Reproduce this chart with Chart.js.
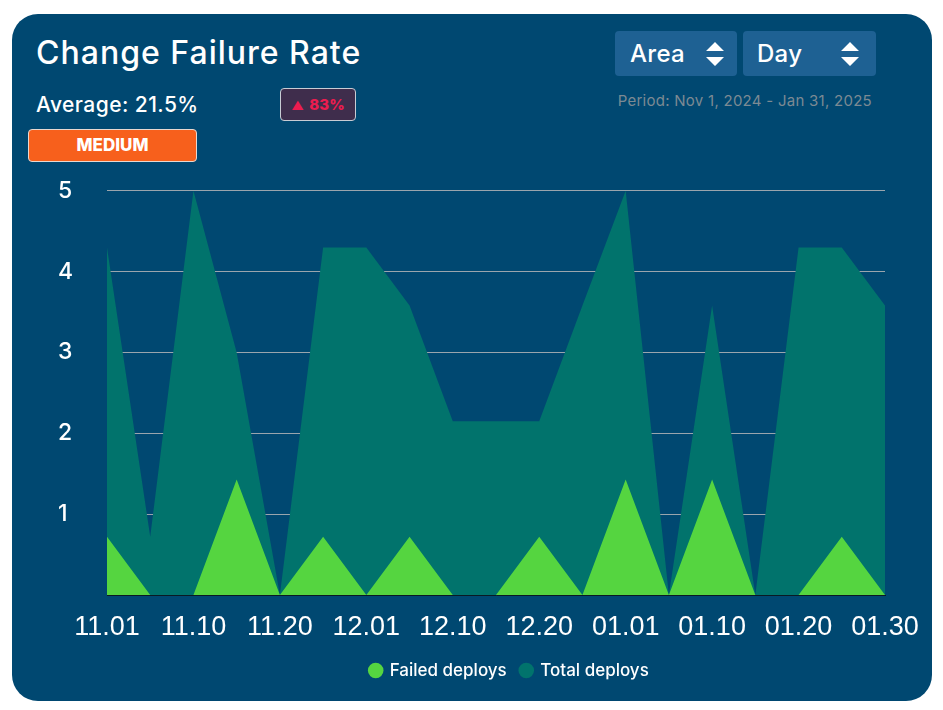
<!DOCTYPE html>
<html>
<head>
<meta charset="utf-8">
<title>Change Failure Rate</title>
<script src="https://cdn.jsdelivr.net/npm/chart.js@4"></script>
<style>
  html, body { margin: 0; padding: 0; background: #fff; width: 943px; height: 710px; overflow: hidden; }
  body { font-family: Inter, sans-serif; color: #fff; }
  .card { position: absolute; left: 12px; top: 14px; width: 920px; height: 687px; background: #004871; border-radius: 26px; }
  .abs { position: absolute; white-space: nowrap; }
  .title { left: 36px; top: 33px; font-size: 32px; line-height: 40px; letter-spacing: 1px; font-weight: 500; }
  .avg { left: 36px; top: 91px; font-size: 21px; line-height: 28px; letter-spacing: 0.45px; font-weight: 500; }
  .trend { left: 280px; top: 88px; width: 74px; height: 31px; line-height: 31px; background: #3f2d4c; border: 1px solid #c8ccd4; border-radius: 4px; color: #ec1c4f; font-size: 15px; font-weight: 800; text-align: center; }
  .trend span { font-size: 12px; margin-right: 2px; }
  .level { left: 28px; top: 129px; width: 167px; height: 31px; line-height: 31px; background: #f7601c; border: 1px solid #e8d8d0; border-radius: 4px; font-size: 17px; font-weight: 800; text-align: center; }
  .select { top: 31px; height: 45px; line-height: 45px; background: #1e6193; border-radius: 4px; font-size: 24px; font-weight: 500; letter-spacing: 0.3px; box-sizing: border-box; padding-left: 15px; }
  .select svg { position: absolute; top: 11px; width: 18px; height: 24px; }
  .period { right: 71px; top: 90px; font-size: 15px; line-height: 22px; letter-spacing: 0.27px; color: #7c8a93; }
  .chart-box { position: absolute; left: 0; top: 142px; width: 943px; height: 561px; }
</style>
</head>
<body>
<div class="card"></div>
<div class="abs title">Change Failure Rate</div>
<div class="abs avg">Average: 21.5%</div>
<div class="abs trend"><span>▲</span> 83%</div>
<div class="abs level">MEDIUM</div>
<div class="abs select" style="left:615px;width:122px">Area
  <svg style="left:91px" viewBox="0 0 18 24"><path fill="#fff" d="M9 0l9 9H0zM9 24L0 15h18z"/></svg>
</div>
<div class="abs select" style="left:743px;width:133px;padding-left:14px">Day
  <svg style="left:98px" viewBox="0 0 18 24"><path fill="#fff" d="M9 0l9 9H0zM9 24L0 15h18z"/></svg>
</div>
<div class="abs period">Period: Nov 1, 2024 - Jan 31, 2025</div>
<div class="chart-box"><canvas id="chart"></canvas></div>
<script>
const categories = ['11.01','11.05','11.10','11.15','11.20','11.25','12.01','12.05','12.10','12.15','12.20','12.25','01.01','01.05','01.10','01.15','01.20','01.25','01.30'];
const failedDeploys = [0.72,0,0,1.43,0,0.72,0,0.72,0,0,0.72,0,1.43,0,1.43,0,0,0.72,0];
const totalDeploys = [4.3,0.72,5,3,0,4.3,4.3,3.58,2.15,2.15,2.15,3.58,5,0,3.58,0,4.3,4.3,3.58];
const yTicks = [1,2,3,4,5];

// legend sits right of the plot centre in the reference
const legendShift = {
  id: 'legendShift',
  afterLayout(chart) {
    chart.legend.left += 38;
    chart.legend.right += 38;
  }
};

new Chart(document.getElementById('chart'), {
  type: 'line',
  data: {
    labels: categories,
    datasets: [
      { label: 'Failed deploys', data: failedDeploys, backgroundColor: '#55d540', borderWidth: 0, fill: 'origin', pointRadius: 0, tension: 0 },
      { label: 'Total deploys', data: totalDeploys, backgroundColor: '#01736c', borderWidth: 0, fill: 'origin', pointRadius: 0, tension: 0 }
    ]
  },
  plugins: [legendShift],
  options: {
    responsive: true,
    maintainAspectRatio: false,
    animation: false,
    layout: { padding: { left: 58, right: 58, top: 10, bottom: 14 } },
    plugins: {
      tooltip: { enabled: false },
      legend: {
        position: 'bottom',
        labels: { usePointStyle: true, pointStyle: 'circle', boxWidth: 11, boxHeight: 11, color: '#fff', font: { family: 'Inter', size: 17, weight: '500' }, padding: 14 }
      }
    },
    scales: {
      x: {
        offset: false,
        afterFit(s) { s.height = 53; },
        grid: { display: false, drawTicks: false },
        border: { color: '#0a1a24', width: 1, z: 1 },
        ticks: {
          color: '#fff', autoSkip: false, maxRotation: 0, padding: 16,
          font: { family: 'Liberation Sans', size: 27 },
          callback(v, i) { return i % 2 === 0 ? categories[i] : ''; }
        }
      },
      y: {
        min: 0, max: 5,
        afterFit(s) { s.width = 49; },
        afterBuildTicks(s) { s.ticks = yTicks.map(value => ({ value })); },
        grid: { color: '#9aa5ad', drawTicks: false, lineWidth: 1 },
        border: { display: false },
        ticks: { color: '#fff', crossAlign: 'far', padding: 35, font: { family: 'Inter', size: 23, weight: '500' } }
      }
    }
  }
});
</script>
</body>
</html>
